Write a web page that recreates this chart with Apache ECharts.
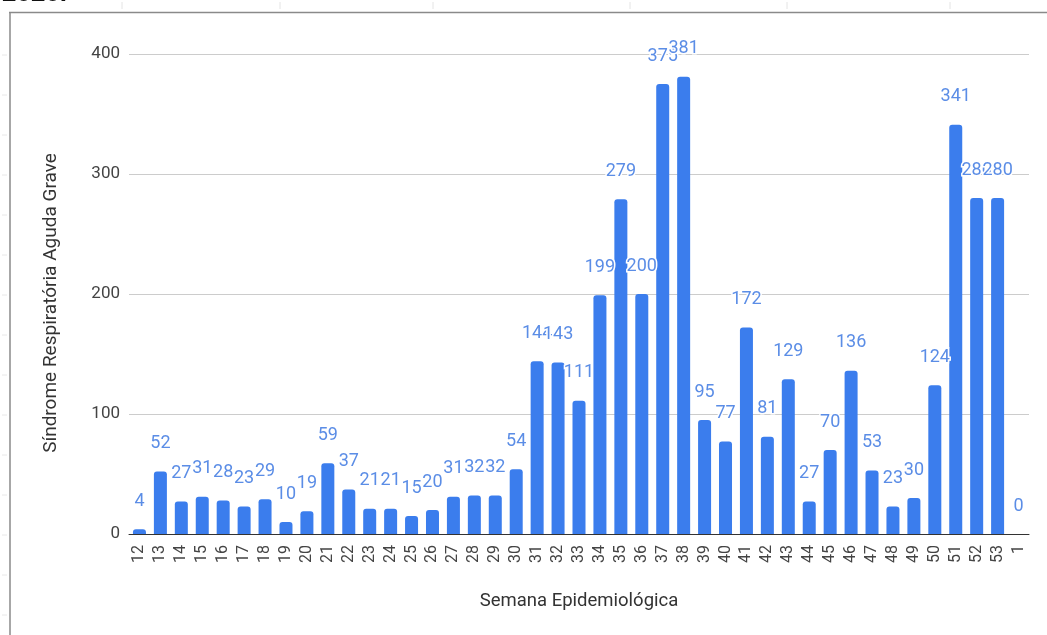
<!DOCTYPE html>
<html>
<head>
<meta charset="utf-8">
<script src="https://cdn.jsdelivr.net/npm/echarts@6/dist/echarts.min.js"></script>
<style>
  html, body { margin: 0; padding: 0; background: #fff; }
  #chart { width: 1047px; height: 635px; }
</style>
</head>
<body>
<div id="chart"></div>
<script>
const weeks = ['12','13','14','15','16','17','18','19','20','21','22','23','24','25','26','27','28','29','30','31','32','33','34','35','36','37','38','39','40','41','42','43','44','45','46','47','48','49','50','51','52','53','1'];
const srag = [4,52,27,31,28,23,29,10,19,59,37,21,21,15,20,31,32,32,54,144,143,111,199,279,200,375,381,95,77,172,81,129,27,70,136,53,23,30,124,341,280,280,0];
const yTicks = [0, 100, 200, 300, 400];
const xTitle = 'Semana Epidemiológica';
const yTitle = 'Síndrome Respiratória Aguda Grave';
const heading = '2020.';

const chart = echarts.init(document.getElementById('chart'), null, { renderer: 'canvas' });

const frameMarks = [];
[122, 280, 433, 630, 787, 950].forEach(x => frameMarks.push({
  type: 'line', shape: { x1: x, y1: 2, x2: x, y2: 9 }, style: { stroke: '#e4e4e4', lineWidth: 1 }, silent: true
}));
for (let y = 55; y < 635; y += 40) {
  frameMarks.push({ type: 'line', shape: { x1: 2, y1: y, x2: 7, y2: y }, style: { stroke: '#e8e8e8', lineWidth: 1 }, silent: true });
}

chart.setOption({
  animation: false,
  backgroundColor: '#fff',
  textStyle: { fontFamily: 'Roboto, Arial, sans-serif' },
  graphic: [
    { type: 'text', x: 2, y: 7, style: { text: heading, font: 'bold 26px Arial, sans-serif', fill: '#111', verticalAlign: 'bottom', align: 'left' }, z: 10 },
    { type: 'line', shape: { x1: 9, y1: 12.5, x2: 1047, y2: 12.5 }, style: { stroke: '#8a8a8a', lineWidth: 1.5 } },
    { type: 'line', shape: { x1: 10, y1: 12, x2: 10, y2: 635 }, style: { stroke: '#8a8a8a', lineWidth: 1.5 } },
    ...frameMarks
  ],
  grid: { left: 129, right: 18, top: 54, bottom: 101, containLabel: false },
  xAxis: {
    type: 'category',
    data: weeks,
    name: xTitle,
    nameLocation: 'middle',
    nameGap: 58,
    nameTextStyle: { fontSize: 18.5, color: '#333' },
    axisLine: { lineStyle: { color: '#333', width: 1 } },
    axisTick: { show: false },
    axisLabel: { rotate: 90, interval: 0, fontSize: 16, color: '#444', margin: 11 }
  },
  yAxis: {
    type: 'value',
    min: yTicks[0],
    max: yTicks[yTicks.length - 1],
    interval: 100,
    name: yTitle,
    nameLocation: 'middle',
    nameGap: 68,
    nameRotate: 90,
    nameTextStyle: { fontSize: 19, color: '#333', padding: [0, 18, 0, 0] },
    axisLine: { show: false },
    axisTick: { show: false },
    axisLabel: { fontSize: 17, color: '#444', margin: 9 },
    splitLine: { lineStyle: { color: '#cccccc', width: 1 } }
  },
  series: [{
    type: 'bar',
    data: srag,
    barWidth: 13,
    itemStyle: { color: '#3b7ded', borderRadius: [3, 3, 0, 0] },
    label: {
      show: true,
      position: 'top',
      distance: 19,
      fontSize: 18,
      color: '#5b8de6',
      textBorderColor: '#fff',
      textBorderWidth: 3
    },
    labelLayout: { hideOverlap: false }
  }]
});
</script>
</body>
</html>
